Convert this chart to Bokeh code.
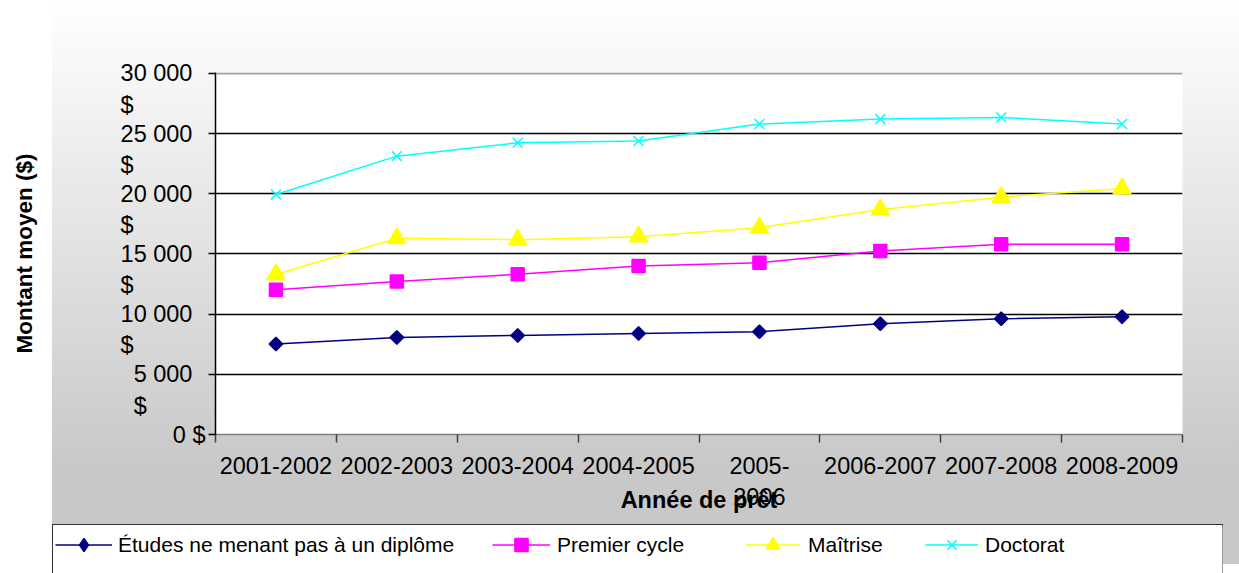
import math
from bokeh.plotting import figure
from bokeh.models import (Range1d, FixedTicker, Legend, LegendItem, Span,
                          InlineStyleSheet)
from bokeh.embed import file_html
from bokeh.resources import INLINE

# ---------------- data ----------------
years = ["2001-2002", "2002-2003", "2003-2004", "2004-2005",
         "2005-2006", "2006-2007", "2007-2008", "2008-2009"]
year_tick_labels = ["2001-2002", "2002-2003", "2003-2004", "2004-2005",
                    "2005-\n2006", "2006-2007", "2007-2008", "2008-2009"]
etudes = [7520, 8070, 8230, 8400, 8540, 9200, 9620, 9780]
premier = [12020, 12710, 13320, 14010, 14280, 15250, 15800, 15800]
maitrise = [13300, 16310, 16190, 16440, 17180, 18700, 19720, 20440]
doctorat = [19950, 23130, 24240, 24380, 25800, 26210, 26350, 25800]
series_names = ["Études ne menant pas à un diplôme", "Premier cycle",
                "Maîtrise", "Doctorat"]
y_ticks = [0, 5000, 10000, 15000, 20000, 25000, 30000]
y_tick_labels = ["0 $", "5 000 $", "10 000 $", "15 000 $", "20 000 $",
                 "25 000 $", "30 000 $"]
x_title = "Année de prêt"
y_title = "Montant moyen ($)"

FONT = "Liberation Sans"
TICK_FS = "23.5px"
NB = "\u00a0"

xs = [i + 0.5 for i in range(len(years))]
bounds = list(range(len(years) + 1))
series = [etudes, premier, maitrise, doctorat]

W = 1239
H1, H2 = 524, 49

# ---------------- main chart ----------------
p = figure(width=W, height=H1, output_backend="svg", toolbar_location=None,
           x_range=Range1d(0, len(years)), y_range=Range1d(0, 30080),
           min_border_left=215, min_border_right=57, min_border_top=72,
           min_border_bottom=90)
p.border_fill_color = None
p.background_fill_color = "white"
p.outline_line_color = None
p.stylesheets = [InlineStyleSheet(css=(
    ":host { background:"
    " linear-gradient(#fff,#fff) 0px 0px / 52px 100% no-repeat,"
    " linear-gradient(to bottom, #ffffff 0px, #c8c8c8 470px, #c8c8c8 100%); }"))]

# x axis
xa = p.xaxis[0]
xa.ticker = FixedTicker(ticks=xs, minor_ticks=bounds)
xa.major_label_overrides = {x: lab for x, lab in zip(xs, year_tick_labels)}
xa.major_tick_line_color = None
xa.major_tick_out = 0
xa.major_tick_in = 0
xa.minor_tick_out = 8
xa.minor_tick_in = 0
xa.minor_tick_line_color = "#404040"
xa.minor_tick_line_width = 1.5
xa.axis_line_color = "#808080"
xa.axis_line_width = 1.5
xa.major_label_standoff = 10
xa.major_label_text_font = FONT
xa.major_label_text_font_size = TICK_FS
xa.major_label_text_color = "black"
xa.axis_label = x_title
xa.axis_label_text_font = FONT
xa.axis_label_text_font_size = "23.5px"
xa.axis_label_text_font_style = "bold"
xa.axis_label_text_color = "black"
xa.axis_label_standoff = -26

# y axis: "N 000 $" wraps with the "$" on a second, left-aligned line
def wrapped(lab):
    num, cur = lab.rsplit(" ", 1)
    if len(num) == 1:
        return lab
    n = 2 * sum(c.isdigit() for c in num) + num.count(" ")
    return NB + "\n" + num + NB * 2 + "\n" + cur + NB * n

ya = p.yaxis[0]
ya.ticker = FixedTicker(ticks=y_ticks, minor_ticks=[])
ya.major_label_overrides = {v: wrapped(lab) for v, lab in zip(y_ticks, y_tick_labels)}
ya.major_label_text_font = FONT
ya.major_label_text_font_size = TICK_FS
ya.major_label_text_color = "black"
ya.major_label_standoff = 3
ya.major_tick_out = 7
ya.major_tick_in = 0
ya.major_tick_line_color = "black"
ya.major_tick_line_width = 1.5
ya.axis_line_color = "black"
ya.axis_line_width = 1.5
ya.axis_label = y_title
ya.axis_label_text_font = FONT
ya.axis_label_text_font_size = "22.5px"
ya.axis_label_text_font_style = "bold"
ya.axis_label_text_color = "black"
ya.axis_label_standoff = 81

p.xgrid.visible = False
p.ygrid.ticker = FixedTicker(ticks=y_ticks[1:-1], minor_ticks=[])
p.ygrid.grid_line_color = "black"
p.ygrid.grid_line_width = 1.5
p.add_layout(Span(location=y_ticks[-1], dimension="width",
                  line_color="#a0a0a0", line_width=2))

styles = [
    dict(color="#000080", marker="square", size=9.5, angle=math.pi / 4,
         legend_marker="diamond"),
    dict(color="#FF00FF", marker="square", size=13, angle=0,
         legend_marker="square"),
    dict(color="#FFFF00", marker="triangle", size=18, angle=0,
         legend_marker="triangle"),
    dict(color="#00FFFF", marker="x", size=14, angle=0,
         legend_marker="x"),
]
for vals, st in zip(series, styles):
    p.line(xs, vals, line_color=st["color"], line_width=1.5)
    p.scatter(xs, vals, marker=st["marker"], size=st["size"],
              angle=st["angle"], fill_color=st["color"],
              line_color=st["color"], line_width=1.5)

# ---------------- legend strip (separate root, below the chart) ----------------
q = figure(width=W, height=H2, output_backend="svg", toolbar_location=None,
           x_range=Range1d(-2, -1), y_range=Range1d(-2, -1),
           min_border_left=53, min_border_right=17, min_border_top=1,
           min_border_bottom=0)
q.border_fill_color = None
q.background_fill_color = "white"
q.outline_line_color = None
q.axis.visible = False
q.grid.visible = False
q.stylesheets = [InlineStyleSheet(css=(
    ":host { background:"
    " linear-gradient(#333,#333) 52px 0px / 1171px 1px no-repeat,"
    " linear-gradient(#333,#333) 52px 0px / 1px 100% no-repeat,"
    " linear-gradient(#333,#333) 1222px 0px / 1px 100% no-repeat,"
    " linear-gradient(#c8c8c8,#c8c8c8) 1223px 0px / 16px 40px no-repeat,"
    " #ffffff; }"))]

leg_cfg = [  # (x from frame left, glyph width, label standoff)
    (2, 57, 6),
    (439, 58, 7),
    (692, 55, 8),
    (872, 53, 7),
]
for name, vals, st, (lx, gw, so) in zip(series_names, series, styles, leg_cfg):
    # same series, outside this strip's visible range: only the legend key shows
    lr = q.line(xs, vals, line_color=st["color"], line_width=1.5)
    sr = q.scatter(xs, vals, marker=st["legend_marker"], size=st["size"],
                   fill_color=st["color"], line_color=st["color"],
                   line_width=1.5)
    leg = Legend(items=[LegendItem(label=name, renderers=[lr, sr])],
                 location=(lx, 12), orientation="horizontal",
                 glyph_width=gw, glyph_height=33, label_height=24,
                 label_standoff=so, padding=0, spacing=0, margin=0,
                 label_text_font=FONT, label_text_font_size="21px",
                 label_text_color="black", label_text_baseline="middle",
                 border_line_color=None, background_fill_alpha=0)
    q.add_layout(leg)

open("out.html", "w").write(file_html([p, q], INLINE))
